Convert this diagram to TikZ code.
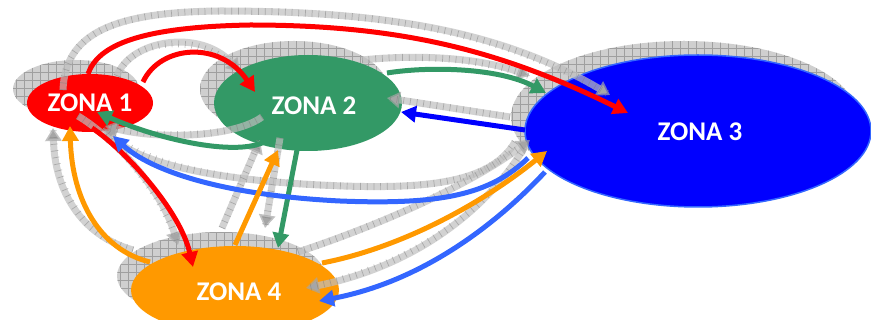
\documentclass[tikz,border=0pt]{standalone}
\usepackage{fontspec}
\setmainfont{Carlito}
\usetikzlibrary{shapes.geometric,arrows.meta,patterns.meta,calc}
\definecolor{zred}{HTML}{FF0000}
\definecolor{zgreen}{HTML}{339966}
\definecolor{zblue}{HTML}{0000FF}
\definecolor{zorange}{HTML}{FF9900}
\definecolor{lblue}{HTML}{3366FF}
\begin{document}
\begin{tikzpicture}[x=1pt,y=-1pt,
  zone/.style={ellipse, inner sep=0pt},
  zlabel/.style={text=white, font=\fontsize{27}{31}\selectfont\bfseries},
  ghost/.style={ellipse, inner sep=0pt, fill=gray!38,
    postaction={pattern={Hatch[distance=8pt,angle=0,line width=0.5pt]}, pattern color=gray!75}},
  flow/.style={line width=5pt, -{Triangle[length=15pt,width=16pt]}},
  echo/.style={line width=7pt, draw=gray!50, draw opacity=0.7,
    -{Triangle[length=13pt,width=16pt,color=gray!70]},
    postaction={draw=gray, draw opacity=0.5, line width=7pt, dash pattern=on 0.7pt off 6pt, -}},
]
\useasboundingbox (0,0) rectangle (871,320);
\clip (0,0) rectangle (871,320);

% offset shadow ellipses
\node[ghost, minimum width=126pt, minimum height=58pt]  (s1) at (76,89) {};
\node[ghost, minimum width=188pt, minimum height=96pt]  (s2) at (294,89) {};
\node[ghost, minimum width=346pt, minimum height=152pt] (s3) at (684,117) {};
\node[ghost, minimum width=208pt, minimum height=88pt]  (s4) at (221,276) {};

% zones
\node[zone, fill=zred,    minimum width=126pt, minimum height=58pt]  (z1) at (90,103) {};
\node[zone, fill=zgreen,  minimum width=188pt, minimum height=96pt]  (z2) at (308,103) {};
\node[zone, fill=zblue, draw=lblue, line width=1.5pt, minimum width=346pt, minimum height=152pt] (z3) at (698,131) {};
\node[zone, fill=zorange, minimum width=208pt, minimum height=88pt]  (z4) at (235,290) {};

% shadow flows
\draw[echo] ($(s1)+(-13,1)$) .. controls (65,35) and (110,12) .. (220,11)
            .. controls (380,11) and (500,30) .. ($(s3)+(-74,-22)$);
\draw[echo] ($(s1)+(41,-13)$) .. controls (130,40) and (200,28) .. ($(s2)+(-54,-17)$);
\draw[echo] ($(s2)+(-32,28)$) .. controls (235,137) and (160,140) .. ($(s1)+(29,37)$);
\draw[echo] ($(s2)+(68,-29)$) .. controls (420,54) and (480,58) .. ($(s3)+(-154,-41)$);
\draw[echo] ($(s3)+(-174,0)$) -- ($(s2)+(93,9)$);
\draw[echo] ($(s3)+(-169,25)$) .. controls (490,185) and (420,190) .. (320,185)
            .. controls (220,180) and (140,165) .. ($(s1)+(27,39)$);
\draw[echo] ($(s3)+(-160,31)$) .. controls (490,205) and (420,265) .. ($(s4)+(85,12)$);
\draw[echo] ($(s4)+(77,-24)$) .. controls (380,225) and (470,185) .. ($(s3)+(-154,23)$);
\draw[echo] ($(s4)+(1,-48)$) -- ($(s2)+(-34,51)$);
\draw[echo] ($(s2)+(-14,49)$) -- ($(s4)+(44,-48)$);
\draw[echo] ($(s1)+(2,27)$) .. controls (110,135) and (160,185) .. ($(s4)+(-43,-31)$);
\draw[echo] ($(s4)+(-88,-26)$) .. controls (80,235) and (55,190) .. ($(s1)+(-23,39)$);

% flows between zones
\draw[flow, zred] ($(z1)+(53,-21)$) .. controls (160,45) and (220,40) .. ($(z2)+(-53,-11)$);
\draw[flow, zred] ($(z1)+(-2,-29)$) .. controls (98,45) and (140,27) .. (250,25)
                  .. controls (400,25) and (500,50) .. ($(z3)+(-70,-18)$);
\draw[flow, zred] ($(z1)+(2,25)$) .. controls (125,150) and (180,210) .. ($(z4)+(-42,-23)$);
\draw[flow, zgreen] ($(z2)+(-40,37)$) .. controls (240,158) and (160,140) .. ($(z1)+(7,9)$);
\draw[flow, zgreen] ($(z2)+(79,-30)$) .. controls (430,66) and (500,68) .. ($(z3)+(-152,-38)$);
\draw[flow, zgreen] ($(z2)+(-11,47)$) -- ($(z4)+(43,-42)$);
\draw[flow, zblue] ($(z3)+(-173,-1)$) -- ($(z2)+(93,9)$);
\draw[flow, lblue] ($(z3)+(-170,27)$) .. controls (490,195) and (440,205) .. (340,201)
                   .. controls (220,195) and (150,170) .. ($(z1)+(23,33)$);
\draw[flow, lblue] ($(z3)+(-153,41)$) .. controls (505,215) and (430,280) .. ($(z4)+(84,11)$);
\draw[flow, zorange] ($(z4)+(-85,-28)$) .. controls (100,250) and (72,200) .. ($(z1)+(-20,23)$);
\draw[flow, zorange] ($(z4)+(0,-45)$) -- ($(z2)+(-30,47)$);
\draw[flow, zorange] ($(z4)+(87,-27)$) .. controls (400,248) and (480,205) .. ($(z3)+(-151,20)$);

% zone names
\node[zlabel] at (z1) {ZONA 1};
\node[zlabel] at ($(z2)+(6,3)$) {ZONA 2};
\node[zlabel] at ($(z3)+(2,1)$) {ZONA 3};
\node[zlabel] at ($(z4)+(4,2)$) {ZONA 4};
\end{tikzpicture}
\end{document}
